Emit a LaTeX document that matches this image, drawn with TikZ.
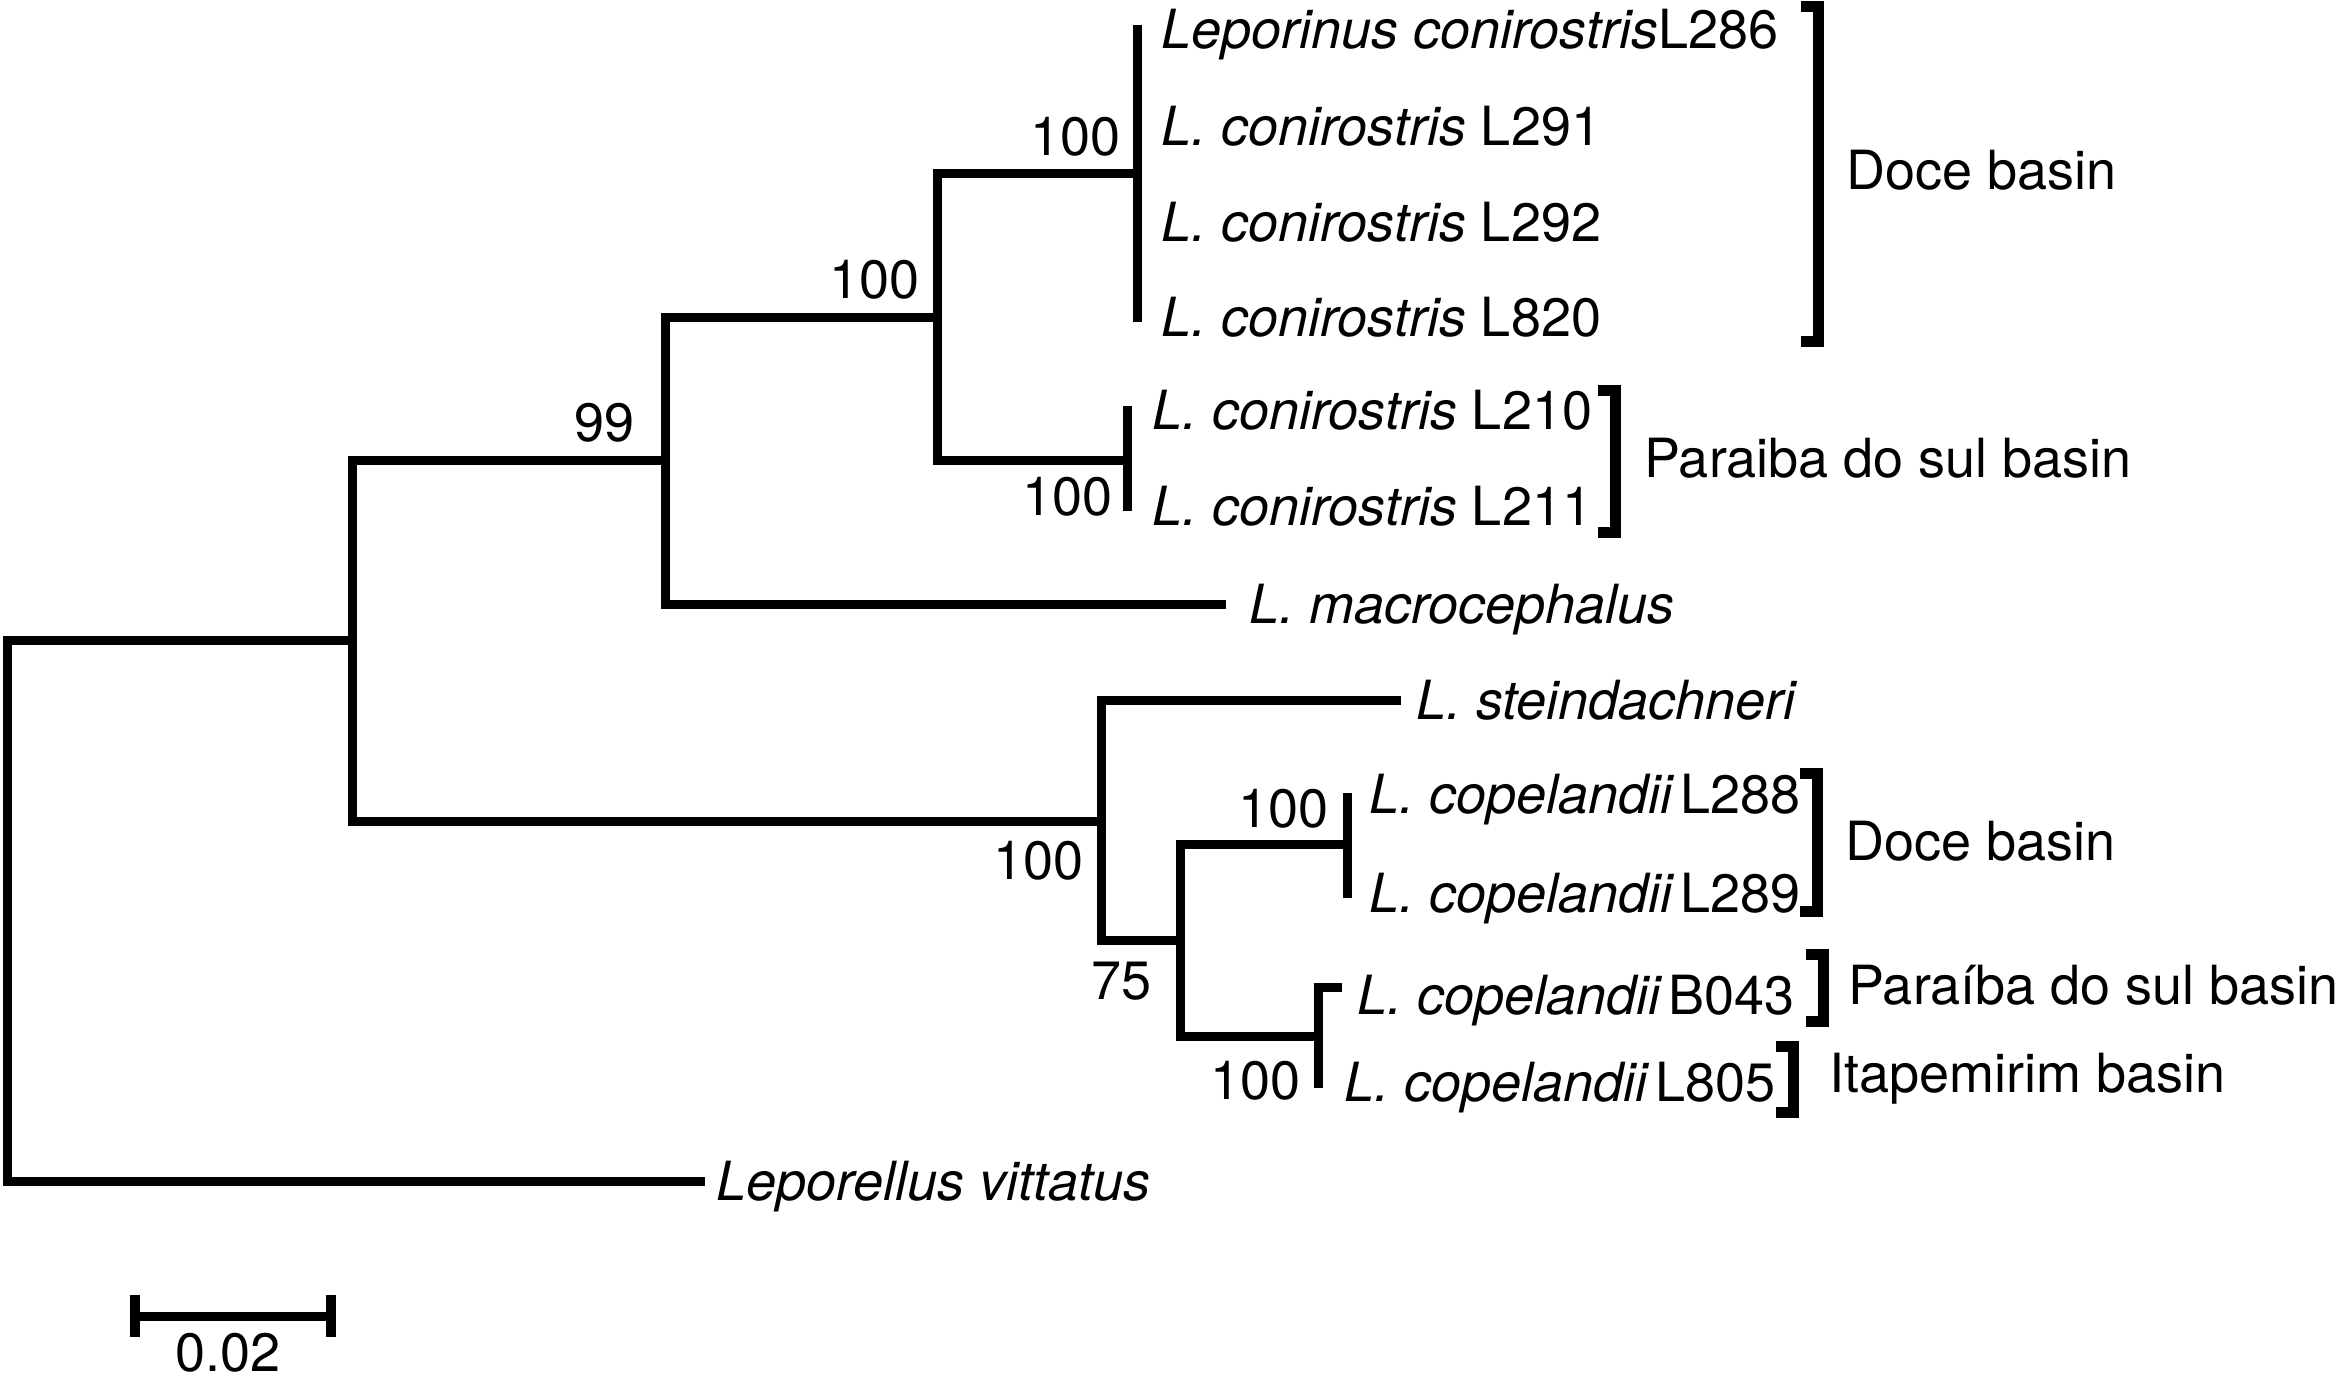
\documentclass[tikz,border=0pt]{standalone}
\usepackage{fontspec}
\setmainfont{TeX Gyre Heros}

\tikzset{every picture/.style={line width=2.25pt}}
\tikzset{
  branch/.style={line width=2.25pt, line cap=rect, line join=miter},
  clade/.style={line width=2.75pt, line cap=rect, line join=miter},
  taxon/.style={anchor=west, inner sep=0pt, text height=9.7pt, text depth=0pt, font=\fontsize{13.5}{16}\selectfont},
  boot/.style={anchor=east, inner sep=0pt, text height=9.7pt, text depth=0pt, font=\fontsize{13.5}{16}\selectfont},
}

\begin{document}
\begin{tikzpicture}[x=0.25pt,y=-0.25pt]
\useasboundingbox (0,0) rectangle (2343,1381);

%Internal nodes
\coordinate (root) at (7,910);
\coordinate (nA) at (352,640);
\coordinate (nB) at (665,460);
\coordinate (nC) at (937,317);
\coordinate (nD) at (1137,173);
\coordinate (nE) at (1127,460);
\coordinate (nF) at (1101,821);
\coordinate (nG) at (1180,940);
\coordinate (nH) at (1347,844);
\coordinate (nI) at (1318,1036);

%Tips
\coordinate (tL286) at (1137,29);
\coordinate (tL291) at (1137,126);
\coordinate (tL292) at (1137,222);
\coordinate (tL820) at (1137,317);
\coordinate (tL210) at (1127,410);
\coordinate (tL211) at (1127,506);
\coordinate (tMac) at (1221,604);
\coordinate (tSte) at (1396,700);
\coordinate (tL288) at (1347,797);
\coordinate (tL289) at (1347,893);
\coordinate (tB043) at (1337,987);
\coordinate (tL805) at (1318,1083);
\coordinate (tVit) at (700,1181);

%Branches
\draw[branch] (root) |- (nA);
\draw[branch] (root) |- (tVit);
\draw[branch] (nA) |- (nB);
\draw[branch] (nA) |- (nF);
\draw[branch] (nB) |- (nC);
\draw[branch] (nB) |- (tMac);
\draw[branch] (nC) |- (nD);
\draw[branch] (nC) |- (nE);
\draw[branch] (nD) -- (tL286);
\draw[branch] (nD) -- (tL820);
\draw[branch] (nE) -- (tL210);
\draw[branch] (nE) -- (tL211);
\draw[branch] (nF) |- (tSte);
\draw[branch] (nF) |- (nG);
\draw[branch] (nG) |- (nH);
\draw[branch] (nG) |- (nI);
\draw[branch] (nH) -- (tL288);
\draw[branch] (nH) -- (tL289);
\draw[branch] (nI) |- (tB043);
\draw[branch] (nI) -- (tL805);

% Text Node
\node[taxon] (lL286) at (1157,29) {\textit{Leporinus conirostris}L286};
\node[taxon] (lL291) at (1157,126) {\textit{L. conirostris} L291};
\node[taxon] (lL292) at (1157,222) {\textit{L. conirostris} L292};
\node[taxon] (lL820) at (1157,317) {\textit{L. conirostris} L820};
\node[taxon] (lL210) at (1148,410) {\textit{L. conirostris} L210};
\node[taxon] (lL211) at (1148,506) {\textit{L. conirostris} L211};
\node[taxon] (lMac) at (1245,604) {\textit{L. macrocephalus}};
\node[taxon] (lSte) at (1412,700) {\textit{L. steindachneri}};
\node[taxon] (lL288) at (1365,794) {\textit{L. copelandii}\hspace{0.1em}L288};
\node[taxon] (lL289) at (1365,893) {\textit{L. copelandii}\hspace{0.1em}L289};
\node[taxon] (lB043) at (1353,995) {\textit{L. copelandii}\hspace{0.1em}B043};
\node[taxon] (lL805) at (1340,1082) {\textit{L. copelandii}\hspace{0.1em}L805};
\node[taxon] (lVit) at (712,1181) {\textit{Leporellus vittatus}};

% Bootstrap values
\node[boot] (bB) at (639,422) {99};
\node[boot] (bC) at (924,279) {100};
\node[boot] (bD) at (1125,136) {100};
\node[boot] (bE) at (1117,496) {100};
\node[boot] (bF) at (1088,860) {100};
\node[boot] (bG) at (1156,980) {75};
\node[boot] (bH) at (1333,808) {100};
\node[boot] (bI) at (1305,1080) {100};

%Brackets
\draw[clade] (1806,6) -- (1818,6) -- (1818,341) -- (1806,341);
\draw[clade] (1603,390) -- (1615,390) -- (1615,532) -- (1603,532);
\draw[clade] (1805,773) -- (1817,773) -- (1817,911) -- (1805,911);
\draw[clade] (1811,954) -- (1823,954) -- (1823,1021) -- (1811,1021);
\draw[clade] (1781,1046) -- (1793,1046) -- (1793,1112) -- (1781,1112);

% Text Node
\node[taxon] (doceA) at (1842,170) {Doce basin};
\node[taxon] (paraA) at (1640,458) {Paraiba do sul basin};
\node[taxon] (doceB) at (1841,841) {Doce basin};
\node[taxon] (paraB) at (1844,985) {Paraíba do sul basin};
\node[taxon] (itap) at (1825,1073) {Itapemirim basin};

%Scale bar
\coordinate (sbL) at (135,1316);
\coordinate (sbR) at (331,1316);
\draw[line width=2.25pt] (sbL) -- (sbR);
\draw[line width=2.5pt] (sbL) ++(0,-21) -- ++(0,42);
\draw[line width=2.5pt] (sbR) ++(0,-21) -- ++(0,42);
\node[taxon, anchor=center] (sbLab) at (228,1352) {0.02};

\end{tikzpicture}
\end{document}
